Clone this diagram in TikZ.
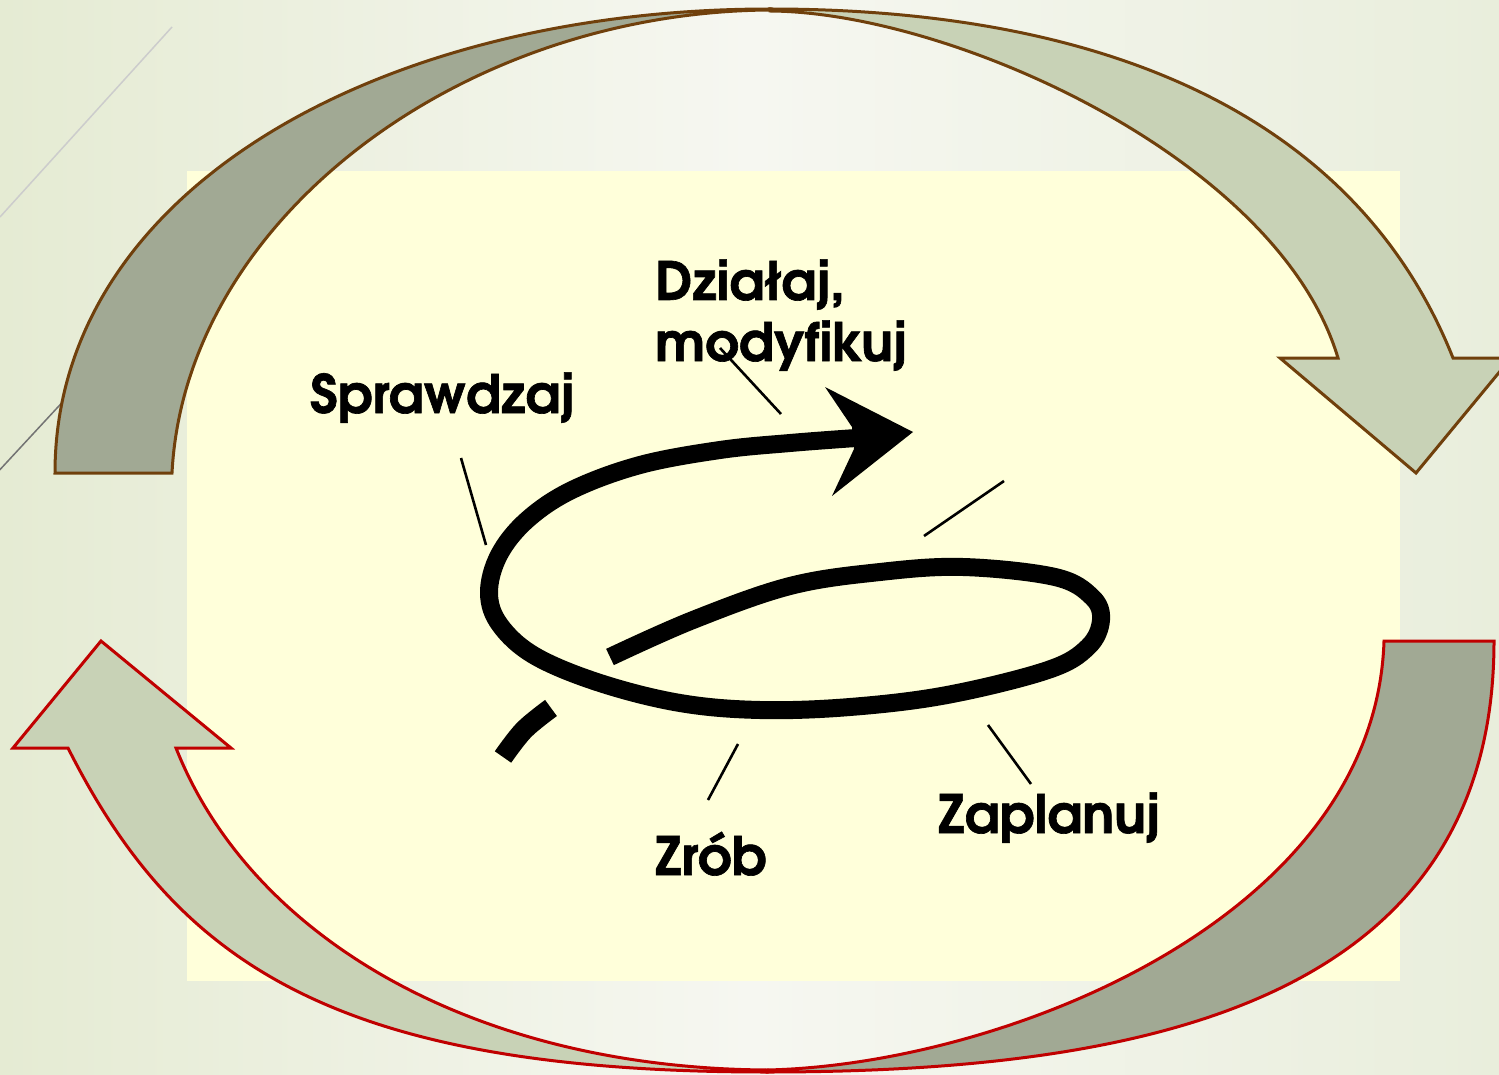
\documentclass[tikz,border=0pt]{standalone}
\usepackage{fontspec}
\setmainfont{texgyreadventor}[Extension=.otf, UprightFont=*-regular, BoldFont=*-bold, BoldFeatures={FakeBold=1.2}]
\definecolor{bgL}{RGB}{229,235,211}
\definecolor{bgM}{RGB}{246,247,241}
\definecolor{bgR}{RGB}{233,238,220}
\definecolor{paper}{RGB}{255,255,218}
\definecolor{bandDark}{RGB}{161,169,148}
\definecolor{bandLight}{RGB}{200,210,182}
\definecolor{brownEdge}{RGB}{112,64,12}
\definecolor{redEdge}{RGB}{192,0,0}
\tikzset{
  darkbrown/.style={fill=bandDark, draw=brownEdge, line width=3pt, line join=miter},
  lightbrown/.style={fill=bandLight, draw=brownEdge, line width=3pt, line join=miter},
  darkred/.style={fill=bandDark, draw=redEdge, line width=3pt, line join=miter},
  lightred/.style={fill=bandLight, draw=redEdge, line width=3pt, line join=miter},
  lbl/.style={font=\bfseries\fontsize{53}{58}\selectfont, anchor=base west, inner sep=0pt, text=black},
  leader/.style={draw=black, line width=2.6pt},
  spiral/.style={draw=black, line width=18pt, line cap=butt, line join=round},
}
\begin{document}
\begin{tikzpicture}[x=1pt,y=-1pt]
\useasboundingbox (0,0) rectangle (1499,1075);
\clip (0,0) rectangle (1499,1075);
% background
\shade[left color=bgL, right color=bgR, middle color=bgM] (0,0) rectangle (1499,1075);
\draw[color=black!20, line width=1.5pt] (172,27) -- (0,217);
\draw[color=black!55, line width=1.5pt] (120,340) -- (-5,475);
% yellow panel
\fill[paper] (187,171) rectangle (1400,981);
% top curved arrow
\filldraw[darkbrown] (55,473) .. controls (55,190) and (380,9) .. (770,9)
  -- (770,10) .. controls (460,12) and (185,220) .. (172,473) -- cycle;
\filldraw[lightbrown] (770,9) .. controls (1100,9) and (1355,112) .. (1453,358)
  -- (1511,358) -- (1416,473) -- (1280,358) -- (1338,358)
  .. controls (1278,158) and (950,12) .. (770,11) -- cycle;
% bottom curved arrow
\filldraw[darkred] (1494,641) .. controls (1494,1000) and (1150,1072) .. (767,1072)
  -- (767,1070) .. controls (1000,1065) and (1375,920) .. (1384,641) -- cycle;
\filldraw[lightred] (767,1072) .. controls (330,1072) and (175,960) .. (68,748)
  -- (13,748) -- (101,641) -- (231,748) -- (176,748)
  .. controls (250,935) and (470,1068) .. (767,1070) -- cycle;
% spiral
\draw[spiral, line width=20pt] plot[smooth, tension=0.6] coordinates {(503,757) (524,730) (551,708)};
\draw[spiral] plot[smooth, tension=0.6] coordinates {
  (610,657) (693,620) (790,586) (880,572) (963,567) (1055,577) (1092,597)
  (1101,620) (1088,647) (1048,670) (947,695) (850,707) (760,710) (680,703)
  (600,683) (535,656) (500,625) (489,593) (499,555) (527,520)
  (572,490) (640,465) (720,450) (790,443) (856,438)};
\fill[black] (825,387) -- (913,432) -- (832,496) -- (854,449) -- (852,427) -- cycle;
% leader lines
\coordinate (sA) at (461,458); \coordinate (sB) at (486,545);
\coordinate (dA) at (720,348); \coordinate (dB) at (781,414);
\coordinate (rA) at (924,536); \coordinate (rB) at (1004,481);
\coordinate (zA) at (738,744); \coordinate (zB) at (708,800);
\coordinate (pA) at (988,725); \coordinate (pB) at (1031,784);
\draw[leader] (sA) -- (sB);
\draw[leader] (rA) -- (rB);
\draw[leader] (zA) -- (zB);
\draw[leader] (pA) -- (pB);
% labels
\node[lbl] (lblS) at (310,413) {Sprawdzaj};
\node[lbl] (lblD) at (655,300) {Działaj,};
\node[lbl] (lblM) at (655,361) {modyfikuj};
\node[lbl] (lblZr) at (655,875) {Zrób};
\node[lbl] (lblZa) at (938,833) {Zaplanuj};
\draw[leader] (dA) -- (dB);
\end{tikzpicture}
\end{document}
